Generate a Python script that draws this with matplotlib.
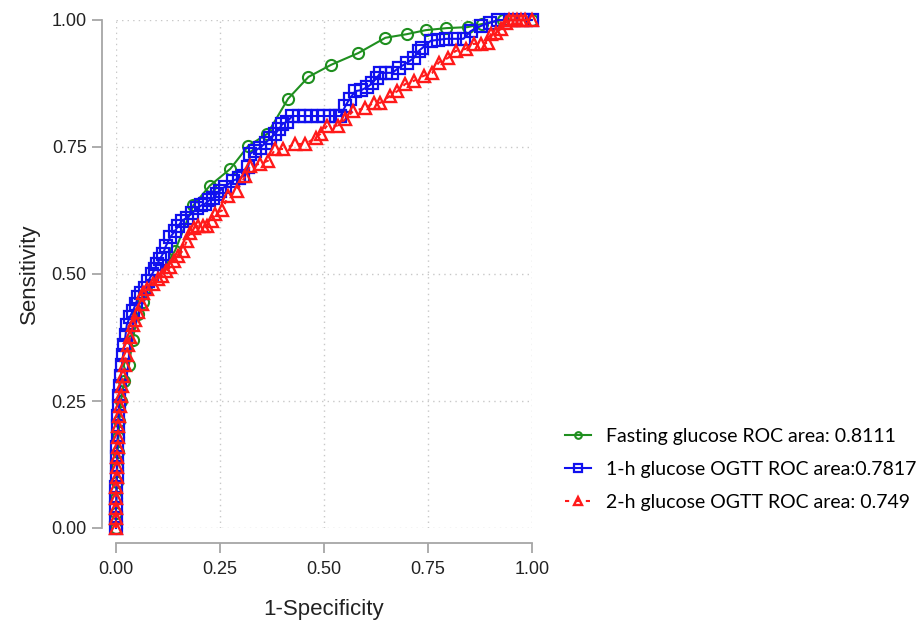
import matplotlib
matplotlib.use("Agg")
import matplotlib.pyplot as plt

# Fasting glucose ROC
fast_x = [0, 0, 0.001, 0.002, 0.003, 0.004, 0.006, 0.008, 0.012, 0.02, 0.031, 0.04, 0.053, 0.065,
          0.142, 0.186, 0.226, 0.275, 0.318, 0.364, 0.414, 0.463, 0.518, 0.583, 0.648, 0.699, 0.745,
          0.795, 0.846, 0.88, 0.93, 1.0]
fast_y = [0, 0.03, 0.06, 0.09, 0.12, 0.15, 0.18, 0.21, 0.25, 0.29, 0.32, 0.37, 0.422, 0.444,
          0.546, 0.635, 0.674, 0.707, 0.752, 0.776, 0.845, 0.888, 0.912, 0.935, 0.965, 0.972, 0.98,
          0.984, 0.986, 0.992, 1.0, 1.0]

# 1-h glucose OGTT ROC
h1_x = [0, 0, 0, 0.001, 0.001, 0.002, 0.002, 0.003, 0.003, 0.004, 0.005, 0.006, 0.007, 0.008, 0.010,
        0.012, 0.014, 0.017, 0.020, 0.023, 0.026, 0.033, 0.041, 0.047, 0.053, 0.060, 0.070, 0.078,
        0.087, 0.093, 0.099, 0.106, 0.113, 0.120, 0.130, 0.142, 0.150, 0.159, 0.171, 0.183, 0.195,
        0.205, 0.214, 0.224, 0.234, 0.243, 0.250, 0.262, 0.282, 0.295, 0.306, 0.318, 0.323, 0.335,
        0.347, 0.360, 0.371, 0.383, 0.392, 0.400, 0.412, 0.424, 0.44, 0.455, 0.47, 0.485, 0.50,
        0.515, 0.53, 0.54, 0.552, 0.562, 0.576, 0.59, 0.605, 0.617, 0.627, 0.636, 0.650, 0.665,
        0.68, 0.701, 0.716, 0.728, 0.737, 0.757, 0.775, 0.795, 0.815, 0.836, 0.853, 0.877, 0.90,
        0.92, 0.95, 0.98, 1.0]
h1_y = [0, 0.02, 0.04, 0.06, 0.08, 0.10, 0.12, 0.14, 0.16, 0.18, 0.20, 0.22, 0.24, 0.26, 0.28,
        0.30, 0.32, 0.34, 0.36, 0.38, 0.40, 0.415, 0.428, 0.44, 0.454, 0.463, 0.473, 0.487,
        0.50, 0.51, 0.52, 0.53, 0.54, 0.555, 0.572, 0.585, 0.595, 0.605, 0.611, 0.62, 0.629,
        0.635, 0.638, 0.645, 0.65, 0.658, 0.664, 0.672, 0.684, 0.688, 0.693, 0.71, 0.737, 0.743,
        0.749, 0.758, 0.768, 0.776, 0.785, 0.795, 0.80, 0.811, 0.811, 0.811, 0.811, 0.811, 0.811,
        0.811, 0.811, 0.811, 0.831, 0.845, 0.86, 0.862, 0.868, 0.876, 0.886, 0.896, 0.896, 0.896,
        0.906, 0.916, 0.925, 0.939, 0.945, 0.959, 0.961, 0.963, 0.963, 0.963, 0.978, 0.988, 0.995,
        1.0, 1.0, 1.0, 1.0]

# 2-h glucose OGTT ROC
h2_x = [0, 0, 0, 0.001, 0.001, 0.002, 0.002, 0.003, 0.004, 0.005, 0.006, 0.008, 0.010, 0.012,
        0.015, 0.018, 0.022, 0.026, 0.030, 0.034, 0.041, 0.046, 0.054, 0.063, 0.065, 0.075, 0.089,
        0.10, 0.111, 0.12, 0.130, 0.140, 0.149, 0.161, 0.170, 0.178, 0.188, 0.198, 0.21, 0.219,
        0.230, 0.239, 0.255, 0.27, 0.291, 0.311, 0.323, 0.347, 0.366, 0.383, 0.402, 0.431, 0.455,
        0.48, 0.492, 0.508, 0.533, 0.552, 0.571, 0.60, 0.62, 0.636, 0.66, 0.677, 0.696, 0.716,
        0.74, 0.761, 0.776, 0.798, 0.817, 0.841, 0.86, 0.877, 0.894, 0.901, 0.913, 0.925, 0.937,
        0.945, 0.955, 0.965, 0.975, 0.985, 1.0]
h2_y = [0, 0.02, 0.04, 0.06, 0.08, 0.10, 0.12, 0.14, 0.16, 0.18, 0.20, 0.22, 0.24, 0.26,
        0.28, 0.30, 0.32, 0.34, 0.36, 0.375, 0.399, 0.41, 0.425, 0.44, 0.462, 0.47, 0.481,
        0.49, 0.497, 0.505, 0.513, 0.525, 0.536, 0.546, 0.565, 0.58, 0.59, 0.595, 0.595, 0.595,
        0.605, 0.619, 0.625, 0.654, 0.664, 0.693, 0.713, 0.717, 0.723, 0.746, 0.746, 0.756, 0.756,
        0.768, 0.776, 0.792, 0.792, 0.805, 0.821, 0.827, 0.837, 0.837, 0.851, 0.86, 0.874, 0.88,
        0.89, 0.896, 0.916, 0.925, 0.939, 0.943, 0.953, 0.953, 0.955, 0.972, 0.974, 0.982, 0.994,
        1.0, 1.0, 1.0, 1.0, 1.0, 1.0]

labels = ["Fasting glucose ROC area: 0.8111",
          "1-h glucose OGTT ROC area:0.7817",
          "2-h glucose OGTT ROC area: 0.749"]
ticks = [0.0, 0.25, 0.5, 0.75, 1.0]
tick_labels = ["0.00", "0.25", "0.50", "0.75", "1.00"]

plt.rcParams['font.family'] = ['Liberation Sans', 'DejaVu Sans']

W, H = 922, 622
fig = plt.figure(figsize=(W / 100, H / 100), dpi=100)
ax = fig.add_axes([116 / W, (H - 528) / H, (531.7 - 116) / W, (528 - 20) / H])

green = '#1f8f1f'
blue = '#1010ee'
red = '#ff1a1a'

l1, = ax.plot(fast_x, fast_y, color=green, lw=1.5, marker='o', ms=8, mfc='none', mew=1.5,
              clip_on=False, zorder=3)
l2, = ax.plot(h1_x, h1_y, color=blue, lw=1.5, marker='s', ms=8.5, mfc='none', mew=1.6,
              clip_on=False, zorder=4)
l3, = ax.plot(h2_x, h2_y, color=red, lw=1.5, ls=(0, (2, 3)), marker='^', ms=9, mfc='none',
              mew=1.7, clip_on=False, zorder=5)

ax.set_xlim(0, 1)
ax.set_ylim(0, 1)
ax.set_xticks(ticks)
ax.set_xticklabels(tick_labels)
ax.set_yticks(ticks)
ax.set_yticklabels(tick_labels)

ax.grid(True, color='#c8c8c8', ls=(0, (1, 3)), lw=1.0)
ax.set_axisbelow(True)

for s in ['top', 'right']:
    ax.spines[s].set_visible(False)
spc = '#a6a6a6'
ax.spines['left'].set_position(('outward', 14 * 0.72))
ax.spines['bottom'].set_position(('outward', 14.7 * 0.72))
for s in ['left', 'bottom']:
    ax.spines[s].set_color(spc)
    ax.spines[s].set_linewidth(1.3)

ax.tick_params(axis='both', direction='out', length=7, width=1.3, color=spc,
               labelsize=13, labelcolor='#222222')
ax.tick_params(axis='y', pad=4)
ax.tick_params(axis='x', pad=6)

ax.set_xlabel("1-Specificity", fontsize=16, color='#222222', labelpad=15)
ax.set_ylabel("Sensitivity", fontsize=16, color='#222222', labelpad=8)

leg = fig.legend([l1, l2, l3], labels, loc='upper left',
                 bbox_to_anchor=(565 / W, (H - 428) / H), frameon=False,
                 prop={'family': 'Lato', 'size': 14}, handlelength=1.35, handletextpad=0.75,
                 labelspacing=0.82, borderpad=0, borderaxespad=0, markerscale=0.6)

fig.savefig("out.png", dpi=100)
